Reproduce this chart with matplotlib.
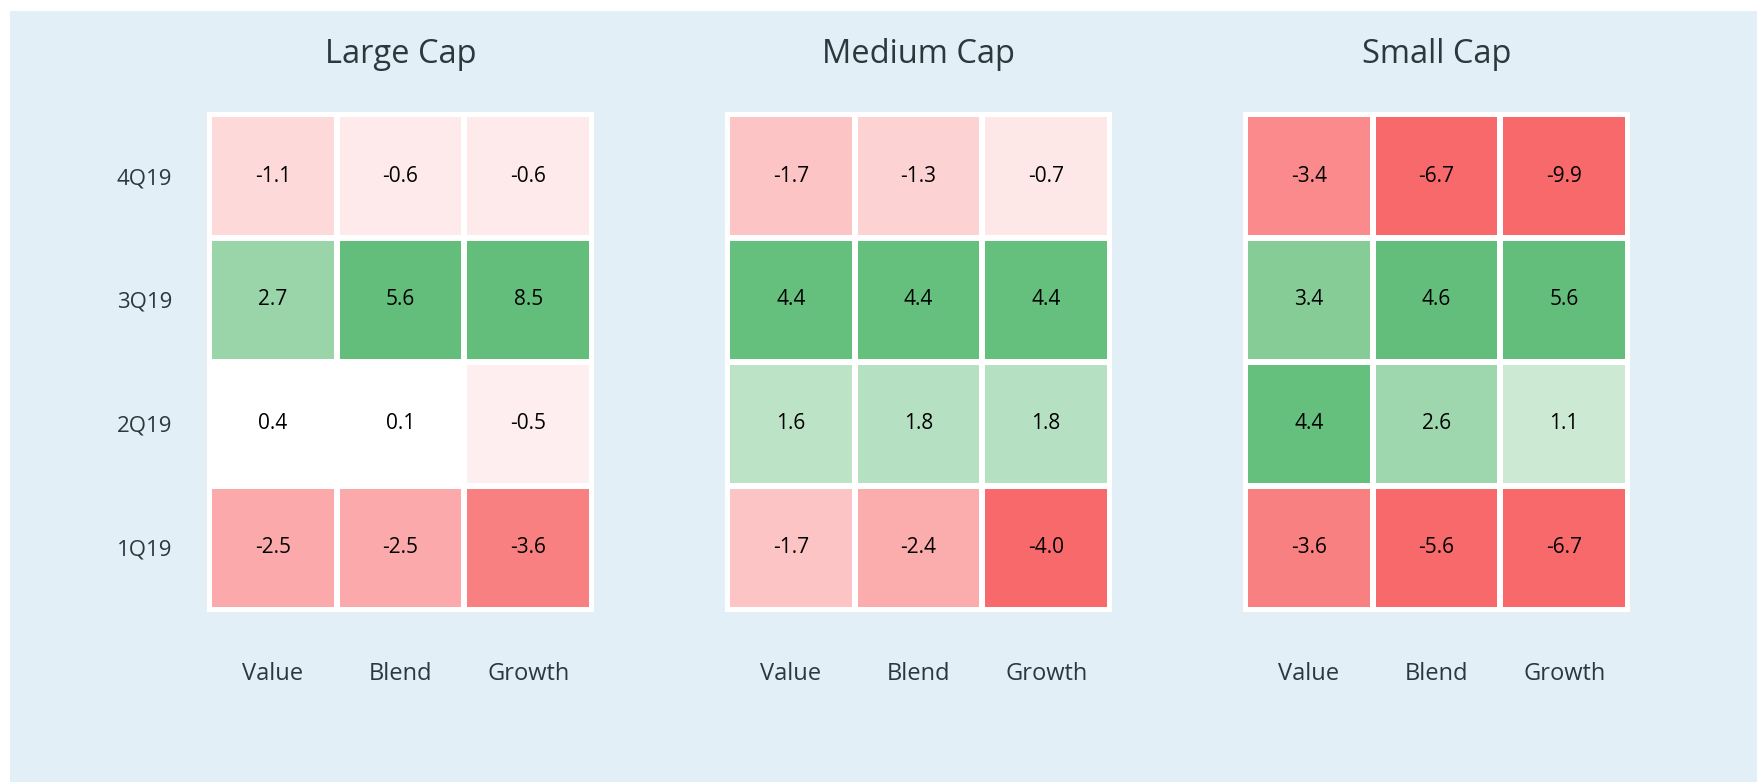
import numpy as np
import matplotlib
matplotlib.use("Agg")
import matplotlib.pyplot as plt
from matplotlib.colors import LinearSegmentedColormap, TwoSlopeNorm, to_rgb
from matplotlib.patches import Rectangle

plt.rcParams['font.family'] = ['Open Sans', 'DejaVu Sans']

titles = ["Large Cap", "Medium Cap", "Small Cap"]
styles = ["Value", "Blend", "Growth"]
quarters = ["4Q19", "3Q19", "2Q19", "1Q19"]

# rows top to bottom: 4Q19, 3Q19, 2Q19, 1Q19
large = [[-1.1, -0.6, -0.6],
         [2.7, 5.6, 8.5],
         [0.4, 0.1, -0.5],
         [-2.5, -2.5, -3.6]]
medium = [[-1.7, -1.3, -0.7],
          [4.4, 4.4, 4.4],
          [1.6, 1.8, 1.8],
          [-1.7, -2.4, -4.0]]
small = [[-3.4, -6.7, -9.9],
         [3.4, 4.6, 5.6],
         [4.4, 2.6, 1.1],
         [-3.6, -5.6, -6.7]]

RED, GREEN = "#F8696B", "#63BE7B"
TXT = "#2b383d"
BG = "#e3eff6"

VMIN, VMAX = -4.0, 4.5


def mix(c, f):
    c = np.array(to_rgb(c))
    return tuple(1 - f * (1 - c))


def pos(v):
    return 0.5 + 0.5 * v / VMAX if v >= 0 else 0.5 - 0.5 * v / VMIN


cmap = LinearSegmentedColormap.from_list("rg", [
    (0.0, RED),
    (pos(-3.5), mix(RED, 0.8)),
    (0.5, "#FFFFFF"),
    (pos(0.45), "#FFFFFF"),
    (pos(1.1), mix(GREEN, 0.33)),
    (1.0, GREEN),
])
cmap.set_under(RED)
cmap.set_over(GREEN)
norm = TwoSlopeNorm(vmin=VMIN, vcenter=0.0, vmax=VMAX)

W, H = 1758, 782
fig = plt.figure(figsize=(W / 100, H / 100), dpi=100)
fig.patches.append(Rectangle((10 / W, 0), 1 - 10 / W, 1 - 11 / H,
                             transform=fig.transFigure, facecolor=BG,
                             edgecolor='none', zorder=-10))

lefts = [207, 725, 1243]
for i, (title, data) in enumerate(zip(titles, [large, medium, small])):
    z = np.array(data)
    ax = fig.add_axes([lefts[i] / W, (H - 612) / H, 387 / W, 500 / H])
    ax.set_facecolor("white")
    ax.pcolormesh(np.arange(4), np.arange(5), z, cmap=cmap, norm=norm,
                  edgecolors="white", linewidth=2.9)
    mx, my = 2 / 127.7, 2 / 124
    ax.set_xlim(-mx, 3 + mx)
    ax.set_ylim(4 + my, -my)
    for r in range(z.shape[0]):
        for c in range(z.shape[1]):
            ax.text(c + 0.5, r + 0.5, f"{z[r, c]:.1f}", ha="center", va="center",
                    fontsize=15, color="black")
    for s in ax.spines.values():
        s.set_visible(False)
    ax.set_xticks(np.arange(3) + 0.5)
    ax.set_xticklabels(styles, fontsize=17, color=TXT)
    ax.tick_params(axis="x", length=0, pad=36)
    if i == 0:
        ax.set_yticks(np.arange(4) + 0.5)
        ax.set_yticklabels(quarters, fontsize=16, color=TXT)
        ax.tick_params(axis="y", length=0, pad=25)
    else:
        ax.set_yticks([])
    fig.text((lefts[i] + 193.5) / W, 1 - 63 / H, title, ha="center",
             va="baseline", fontsize=23.5, color=TXT)

fig.savefig("out.png", dpi=100)
